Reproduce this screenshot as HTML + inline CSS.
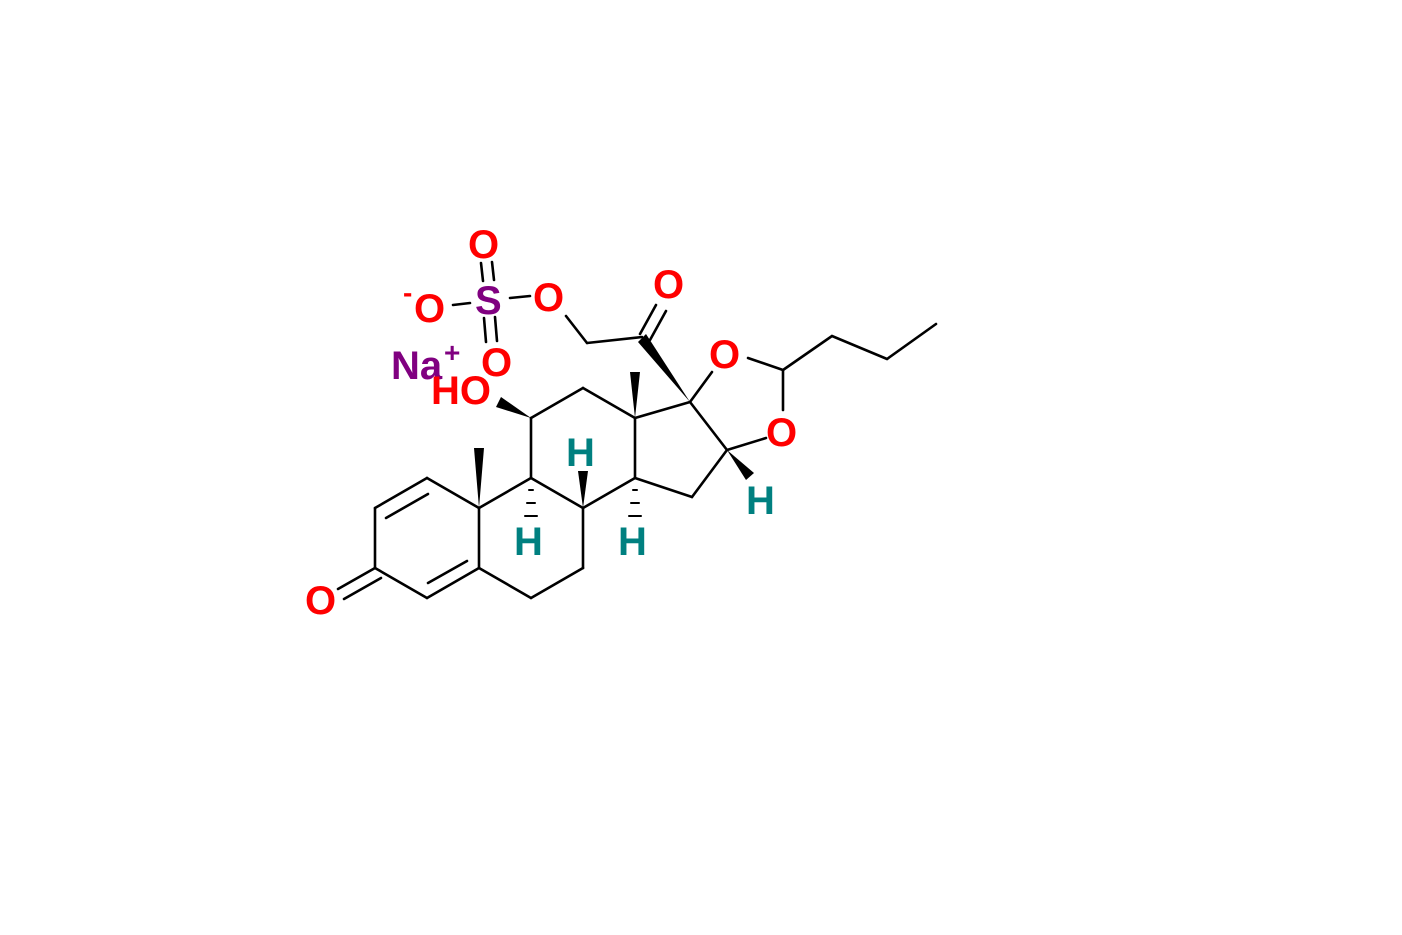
<!DOCTYPE html>
<html><head><style>
html,body{margin:0;padding:0;background:#fff;}
svg{display:block;}
text{font-family:"Liberation Sans",Arial,sans-serif;font-weight:bold;font-size:40px;}
.r{fill:#ff0000}.t{fill:#008080}.p{fill:#800080}
</style></head><body>
<svg width="1402" height="935" viewBox="0 0 1402 935">
<g stroke="#000" stroke-width="2.6" fill="none" stroke-linecap="round">
<line x1="427" y1="478" x2="375" y2="508"/>
<line x1="428" y1="494" x2="386" y2="518"/>
<line x1="375" y1="508" x2="375" y2="568"/>
<line x1="375" y1="568" x2="427" y2="598"/>
<line x1="427" y1="598" x2="479" y2="568"/>
<line x1="428" y1="583" x2="467" y2="561"/>
<line x1="479" y1="568" x2="479" y2="508"/>
<line x1="479" y1="508" x2="427" y2="478"/>
<line x1="375" y1="568" x2="338" y2="589"/>
<line x1="381" y1="578" x2="344" y2="599"/>
<line x1="479" y1="508" x2="531" y2="478"/>
<line x1="531" y1="478" x2="583" y2="508"/>
<line x1="583" y1="508" x2="583" y2="568"/>
<line x1="583" y1="568" x2="531" y2="598"/>
<line x1="531" y1="598" x2="479" y2="568"/>
<line x1="531" y1="478" x2="531" y2="418"/>
<line x1="531" y1="418" x2="583" y2="388"/>
<line x1="583" y1="388" x2="635" y2="418"/>
<line x1="635" y1="418" x2="635" y2="478"/>
<line x1="635" y1="478" x2="583" y2="508"/>
<line x1="635" y1="418" x2="690" y2="402"/>
<line x1="690" y1="402" x2="727" y2="450"/>
<line x1="727" y1="450" x2="692" y2="497"/>
<line x1="692" y1="497" x2="635" y2="478"/>
<line x1="690" y1="402" x2="712" y2="372"/>
<line x1="748" y1="358" x2="783" y2="370"/>
<line x1="783" y1="370" x2="783" y2="410"/>
<line x1="766" y1="438" x2="727" y2="450"/>
<polyline points="783,370 832,336 887,359 936,324"/>
<line x1="642" y1="337" x2="587" y2="343"/>
<line x1="587" y1="343" x2="566" y2="316"/>
<line x1="640" y1="334" x2="656" y2="305"/>
<line x1="650" y1="340" x2="666" y2="311"/>
<line x1="510" y1="298" x2="530" y2="296"/>
<line x1="453" y1="305" x2="470" y2="303"/>
<line x1="481" y1="263" x2="483" y2="281"/>
<line x1="492" y1="262" x2="494" y2="280"/>
<line x1="484" y1="318" x2="486" y2="342"/>
<line x1="495" y1="317" x2="497" y2="341"/>
<g stroke-width="2">
<line x1="529" y1="490" x2="533" y2="490"/>
<line x1="527" y1="503" x2="535" y2="503"/>
<line x1="525" y1="516" x2="537" y2="516"/>
<line x1="633" y1="490" x2="637" y2="490"/>
<line x1="631" y1="503" x2="639" y2="503"/>
<line x1="629" y1="516" x2="641" y2="516"/>
</g>
</g>
<g fill="#000">
<polygon points="479,508 474,448 484,448"/>
<polygon points="635,418 630,372 640,372"/>
<polygon points="583,508 578,471 588,471"/>
<polygon points="531,418 501,397 496,407"/>
<polygon points="690,402 646,334 638,342"/>
<polygon points="727,450 754,473 746,480"/>
</g>
<text class="r" x="305" y="614">O</text>
<text class="r" x="468" y="258">O</text>
<text class="p" x="475" y="314">S</text>
<text class="r" x="533" y="311">O</text>
<text class="r" x="414" y="322">O</text>
<text class="r" x="403" y="302" style="font-size:28px">-</text>
<text class="r" x="481" y="376">O</text>
<text class="r" x="653" y="298">O</text>
<text class="r" x="709" y="368">O</text>
<text class="r" x="766" y="446">O</text>
<text class="p" x="391" y="379">Na</text>
<text class="p" x="444" y="362" style="font-size:28px">+</text>
<text class="r" x="431" y="404">HO</text>
<text class="t" x="566" y="466">H</text>
<text class="t" x="514" y="555">H</text>
<text class="t" x="618" y="555">H</text>
<text class="t" x="746" y="514">H</text>
</svg>
</body></html>
